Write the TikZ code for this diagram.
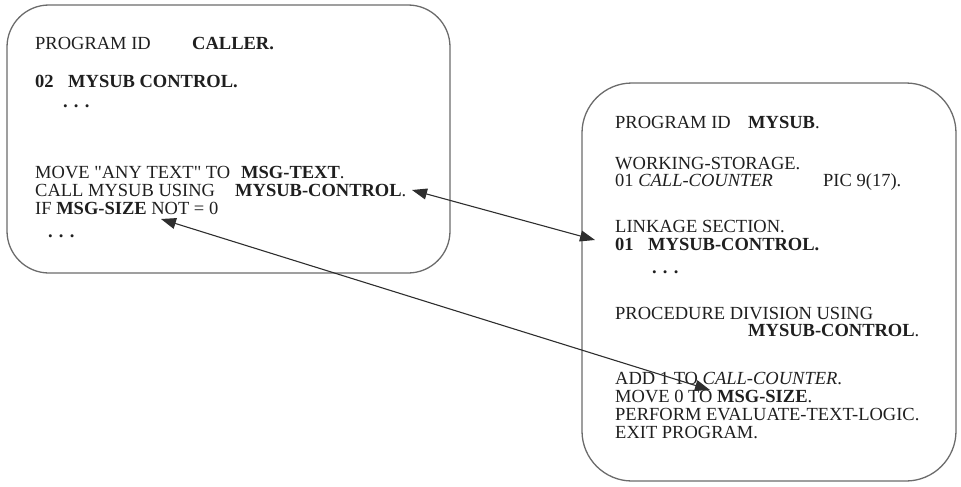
\documentclass[tikz,border=0pt]{standalone}
\usepackage{fontspec}
\setmainfont{Liberation Serif}[Ligatures=TeXOff]
\usetikzlibrary{arrows.meta}
\begin{document}
\begin{tikzpicture}[x=1pt,y=-1pt,
  txt/.style={anchor=base west,inner sep=0pt,font=\fontsize{18.5}{18}\selectfont,text=black!88},
  codebox/.style={draw=black!58,line width=1.3pt,rounded corners=42pt},
  link/.style={draw=black!82,line width=1.1pt,{Triangle[length=15pt,width=11pt]}-{Triangle[length=15pt,width=11pt]}}]
\useasboundingbox (0,0) rectangle (961,487);
% boxes
\node[codebox,minimum width=443pt,minimum height=268pt] (caller) at (228.5,139) {};
\node[codebox,minimum width=374pt,minimum height=398pt,rounded corners=50pt] (mysub) at (769,282) {};
% left box text
\node[txt] (c1a) at (35,49) {PROGRAM ID};
\node[txt] (c1b) at (192,49) {\textbf{CALLER.}};
\node[txt] (c2a) at (35,87) {\textbf{02}};
\node[txt] (c2b) at (68,87) {\textbf{MYSUB CONTROL.}};
\node[txt] (c3) at (63,107) {\textbf{. . .}};
\node[txt] (c4a) at (35,178) {MOVE "ANY TEXT" TO};
\node[txt] (c4b) at (241,178) {\textbf{MSG-TEXT}.};
\node[txt] (c5a) at (35,196) {CALL MYSUB USING};
\node[txt] (c5b) at (235,196) {\textbf{MYSUB-CONTROL}.};
\node[txt] (c6) at (35,214) {IF \textbf{MSG-SIZE} NOT = 0};
\node[txt] (c7) at (48,237) {\textbf{. . .}};
% right box text
\node[txt] (s1a) at (615,128) {PROGRAM ID};
\node[txt] (s1b) at (748,128) {\textbf{MYSUB}.};
\node[txt] (s2) at (615,169) {WORKING-STORAGE.};
\node[txt] (s3a) at (615,186) {01 \textit{CALL-COUNTER}};
\node[txt] (s3b) at (823,186) {PIC 9(17).};
\node[txt] (s4) at (615,232) {LINKAGE SECTION.};
\node[txt] (s5a) at (615,250) {\textbf{01}};
\node[txt] (s5b) at (648,250) {\textbf{MYSUB-CONTROL.}};
\node[txt] (s6) at (652,273) {\textbf{. . .}};
\node[txt] (s7) at (615,319) {PROCEDURE DIVISION USING};
\node[txt] (s8) at (748,336) {\textbf{MYSUB-CONTROL}.};
\node[txt] (s9) at (615,384) {ADD 1 TO \textit{CALL-COUNTER}.};
\node[txt] (s10) at (615,402) {MOVE 0 TO \textbf{MSG-SIZE}.};
\node[txt] (s11) at (615,420) {PERFORM EVALUATE-TEXT-LOGIC.};
\node[txt] (s12) at (615,438) {EXIT PROGRAM.};
% connectors
\coordinate (a1) at (412,190);
\coordinate (a2) at (595,240);
\coordinate (b1) at (161,219);
\coordinate (b2) at (710,390);
\draw[link] (a1) -- (a2);
\draw[link] (b1) -- (b2);
\end{tikzpicture}
\end{document}
